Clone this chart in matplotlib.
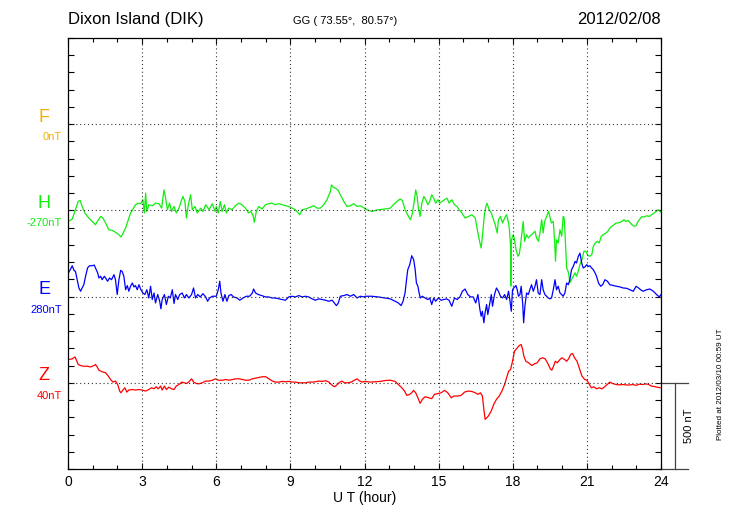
import numpy as np
import matplotlib
matplotlib.use("Agg")
import matplotlib.pyplot as plt

plt.rcParams['font.family'] = ['Liberation Sans', 'DejaVu Sans']

station = "Dixon Island (DIK)"
coords = "GG ( 73.55\u00b0,  80.57\u00b0)"
date = "2012/02/08"
stamp = "Plotted at 2012/03/10 00:59 UT"

# component names, baseline labels, colours
comps = ["F", "H", "E", "Z"]
base_labels = ["0nT", "-270nT", "280nT", "40nT"]
colors = ["#f5b000", "#10ee10", "#0000ff", "#ff0000"]
offsets = [2000, 1500, 1000, 500]   # plotting offset of each trace, nT
scale_nt = 500

# deviations from baseline (nT)
h_hour = [0.01, 0.17, 0.30, 0.41, 0.49, 0.57, 0.68, 0.84, 0.98, 1.11, 1.25, 1.33, 1.41, 1.52,
          1.65, 1.79, 1.92, 2.06, 2.14, 2.22, 2.33, 2.44, 2.53, 2.63, 2.73, 2.84, 2.95, 3.03,
          3.09, 3.14, 3.19, 3.27, 3.41, 3.54, 3.68, 3.79, 3.88, 3.95, 4.02, 4.11, 4.19, 4.29,
          4.38, 4.49, 4.60, 4.65, 4.73, 4.79, 4.87, 4.96, 5.03, 5.14, 5.23, 5.37, 5.46, 5.57,
          5.71, 5.84, 5.95,
          6.00, 6.08, 6.16, 6.24, 6.33, 6.41, 6.50, 6.64, 6.77, 6.91, 7.04, 7.18, 7.31, 7.40,
          7.49, 7.54, 7.62, 7.72, 7.85, 7.99, 8.12, 8.26, 8.39, 8.53, 8.66, 8.80, 8.93, 9.07,
          9.20, 9.38, 9.47, 9.61, 9.81, 9.94, 10.08, 10.21, 10.35, 10.48, 10.62, 10.66, 10.73,
          10.82, 10.92, 11.02, 11.16, 11.29, 11.43, 11.56, 11.70, 11.83, 12.00,
          12.02, 12.29, 12.56, 12.83, 13.04, 13.17, 13.31, 13.44, 13.53, 13.64, 13.78, 13.86,
          13.94, 14.02, 14.07, 14.13, 14.18, 14.25, 14.32, 14.40, 14.48, 14.56, 14.64, 14.72,
          14.80, 14.88, 14.97, 15.05, 15.13, 15.24, 15.34, 15.42, 15.53, 15.64, 15.74, 15.83,
          15.94, 16.07, 16.21, 16.34, 16.48, 16.59, 16.67, 16.72, 16.77, 16.86, 16.91, 16.96,
          17.04, 17.13, 17.22, 17.29, 17.37, 17.42, 17.50, 17.59, 17.67, 17.75, 17.83, 17.87,
          17.91, 17.92, 17.95,
          18.02, 18.07, 18.13, 18.21, 18.26, 18.31, 18.37, 18.42, 18.48, 18.56, 18.63, 18.69,
          18.76, 18.83, 18.90, 18.96, 19.04, 19.10, 19.17, 19.23, 19.29, 19.37, 19.45, 19.50,
          19.56, 19.64, 19.69, 19.73, 19.77, 19.84, 19.91, 19.98, 20.04, 20.08, 20.12, 20.18,
          20.26, 20.31, 20.38, 20.45, 20.52, 20.58, 20.65, 20.72, 20.80, 20.88, 20.96, 21.04,
          21.12, 21.20, 21.26, 21.34, 21.42, 21.50, 21.58, 21.66, 21.77, 21.85, 21.93, 22.01,
          22.10, 22.18, 22.26, 22.34, 22.42, 22.50, 22.58, 22.66, 22.74, 22.82, 22.91, 22.99,
          23.07, 23.15, 23.23, 23.31, 23.42, 23.53, 23.62, 23.72, 23.80, 23.88, 23.96, 24.00]
h_nt = [-64, -50, 4, 52, 58, 23, -15, -44, -64, -83, -50, -35, -44, -73,
        -112, -116, -127, -141, -154, -135, -102, -54, -15, 8, 33, 42, 39, 62,
        -15, 100, -6, 33, 27, 42, 39, 13, 119, 71, 4, 42, -6, 23,
        -15, 13, 62, 81, 52, -44, 33, 91, 4, 23, -15, 13, -6, 33,
        4, 39, -6,
        23, -15, 52, -6, 33, -15, 13, 4, 27, 42, 33, 13, -15, -6,
        -31, -69, -6, 23, 8, 33, 39, 42, 33, 39, 33, 27, 23, 13,
        4, -25, 4, 8, 19, 27, 13, 13, 33, 62, 110, 148, 135,
        129, 119, 91, 52, 23, 27, 39, 23, 27, 13,
        8, -6, 4, 8, 13, 33, 52, 66, 58, 4, -35, -54,
        -15, 62, 119, 81, 13, -35, 42, 81, 62, 33, 52, 91,
        71, 42, 62, 42, 52, 62, 71, 42, 62, 33, 23, 4,
        -15, -44, -35, -25, -44, -131, -189, -218, -150, -15, 23, 42,
        4, -15, -54, -83, -131, -54, -35, -73, -44, -25, -73, -121,
        -208, -439, -170,
        -141, -170, -227, -266, -256, -208, -131, -64, -179, -141, -160, -150,
        -141, -131, -121, -160, -179, -131, -54, -131, -64, -35, -6, -35,
        -73, -64, -170, -295, -170, -189, -112, -150, -35, -44, -150, -333,
        -362, -420, -401, -382, -362, -382, -353, -314, -285, -237, -237, -262,
        -266, -256, -208, -189, -179, -189, -150, -141, -131, -121, -102, -92,
        -83, -73, -73, -69, -64, -54, -64, -58, -69, -83, -92, -89,
        -64, -50, -35, -39, -31, -35, -25, -15, -6, 4, -6, -12]

e_hour = [0.01, 0.09, 0.17, 0.24, 0.30, 0.37, 0.44, 0.51, 0.57, 0.64, 0.71, 0.79, 0.87, 0.98,
          1.06, 1.11, 1.20, 1.25, 1.32, 1.38, 1.47, 1.52, 1.60, 1.68, 1.76, 1.86, 1.92, 1.99,
          2.06, 2.13, 2.19, 2.26, 2.33, 2.40, 2.46, 2.53, 2.60, 2.67, 2.73, 2.80, 2.87, 2.95,
          3.03, 3.11, 3.19, 3.27, 3.34, 3.41, 3.48, 3.54, 3.63, 3.71, 3.76, 3.81, 3.90, 3.98,
          4.06, 4.14, 4.22, 4.29, 4.35, 4.44, 4.52, 4.62, 4.71, 4.79, 4.89, 5.00, 5.08, 5.16,
          5.25, 5.35, 5.46, 5.57, 5.65, 5.73, 5.84, 5.95,
          6.00, 6.08, 6.14, 6.19, 6.27, 6.35, 6.43, 6.51, 6.60, 6.70, 6.84, 6.95, 7.08, 7.22,
          7.35, 7.46, 7.51, 7.59, 7.70, 7.84, 7.99, 8.12, 8.26, 8.39, 8.53, 8.66, 8.80, 8.93,
          9.07, 9.20, 9.34, 9.47, 9.61, 9.74, 9.88, 10.01, 10.15, 10.28, 10.42, 10.55, 10.69,
          10.78, 10.86, 10.94, 11.02, 11.16, 11.29, 11.43, 11.56, 11.70, 11.83, 12.00,
          12.02, 12.29, 12.56, 12.83, 13.04, 13.24, 13.37, 13.48, 13.56, 13.64, 13.70, 13.75,
          13.83, 13.91, 13.99, 14.05, 14.10, 14.16, 14.21, 14.26, 14.34, 14.45, 14.56, 14.64,
          14.72, 14.80, 14.88, 14.99, 15.10, 15.21, 15.32, 15.42, 15.53, 15.64, 15.75, 15.86,
          15.96, 16.07, 16.18, 16.29, 16.40, 16.50, 16.59, 16.67, 16.72, 16.77, 16.83, 16.88,
          16.94, 16.99, 17.07, 17.13, 17.18, 17.26, 17.34, 17.42, 17.50, 17.59, 17.67, 17.75,
          17.83, 17.88, 17.94, 17.99,
          18.04, 18.13, 18.18, 18.23, 18.29, 18.34, 18.40, 18.44, 18.49, 18.56, 18.63, 18.69,
          18.76, 18.83, 18.90, 18.96, 19.03, 19.10, 19.17, 19.23, 19.30, 19.37, 19.44, 19.50,
          19.57, 19.64, 19.71, 19.77, 19.84, 19.91, 19.98, 20.04, 20.11, 20.18, 20.25, 20.31,
          20.38, 20.45, 20.52, 20.58, 20.65, 20.72, 20.79, 20.85, 20.92, 20.99, 21.06, 21.12,
          21.19, 21.26, 21.33, 21.39, 21.47, 21.56, 21.64, 21.73, 21.83, 21.93, 22.07, 22.20,
          22.34, 22.47, 22.61, 22.74, 22.88, 22.99, 23.09, 23.20, 23.28, 23.42, 23.55, 23.69,
          23.82, 23.93, 24.00]
e_nt = [137, 156, 179, 152, 146, 98, 50, 31, 50, 69, 118, 166, 179, 179,
        183, 166, 137, 108, 118, 98, 118, 108, 89, 108, 98, 127, 98, 12,
        98, 152, 146, 118, 40, 64, 31, 60, 79, 56, 64, 40, 69, 40,
        21, 12, 40, -8, 60, -17, 21, -37, 12, -27, -71, -17, 12, -46,
        2, -8, 40, -40, 12, -17, 12, 21, -8, 12, -8, 12, 50, -8,
        12, -2, 17, -2, -27, -8, 2, 2,
        2, 40, 89, 21, -27, 12, -27, 6, 12, -2, -8, -21, -8, 2,
        2, 21, 44, 21, 12, 6, -2, -2, -8, -8, -13, -17, -21, -2,
        2, -2, 6, -2, 2, -2, -13, -21, -13, -17, -21, -27, -21,
        -37, -52, -37, 2, 6, 12, 2, 12, -8, 2, -2,
        2, 2, -2, -8, -13, -27, -37, -52, -27, 21, 98, 156,
        185, 237, 214, 156, 79, 60, 21, -8, 2, -8, -17, -8,
        -46, -8, -27, -8, -21, -17, -13, -21, -56, -8, -17, -2,
        31, 44, 12, -2, -2, -37, 12, -75, -114, -85, -152, -94,
        -46, -104, -37, 12, -56, 12, 50, 31, 2, -8, 12, -17,
        31, -17, -85, 40,
        50, 64, 40, 2, 12, 60, -37, -152, -56, 21, 12, 40,
        69, 31, 60, 98, 21, 12, 98, 40, 12, 2, -8, -13,
        -8, 40, 98, 40, 60, 21, 12, 2, 21, 79, 69, 98,
        156, 175, 204, 195, 233, 252, 195, 166, 172, 185, 175, 179,
        166, 156, 137, 118, 79, 60, 69, 98, 89, 69, 64, 60,
        56, 50, 48, 40, 31, 60, 50, 37, 31, 40, 44, 31,
        12, -2, 12]

z_hour = [0.03, 0.17, 0.28, 0.33, 0.41, 0.51, 0.64, 0.78, 0.91, 1.05, 1.11, 1.18, 1.25, 1.38,
          1.52, 1.63, 1.72, 1.82, 1.92, 2.01, 2.09, 2.14, 2.22, 2.30, 2.38, 2.46, 2.60, 2.73,
          2.87, 3.00, 3.14, 3.27, 3.38, 3.48, 3.57, 3.65, 3.75, 3.81, 3.90, 3.98, 4.08, 4.19,
          4.29, 4.38, 4.49, 4.60, 4.71, 4.81, 4.92, 5.00, 5.08, 5.19, 5.30, 5.43, 5.57, 5.70,
          5.84, 5.97, 6.08, 6.25, 6.38, 6.52, 6.65, 6.78, 6.92, 7.05, 7.19, 7.32, 7.46, 7.59,
          7.73, 7.86, 8.00, 8.13, 8.27, 8.40, 8.54, 8.67, 8.81, 8.94, 9.08, 9.21, 9.35, 9.48,
          9.62, 9.75, 9.89, 10.02, 10.16, 10.29, 10.43, 10.56, 10.67, 10.78, 10.86, 10.97,
          11.08, 11.19, 11.32, 11.46, 11.59, 11.70, 11.78, 11.91,
          12.02, 12.23, 12.43, 12.63, 12.83, 13.04, 13.24, 13.37, 13.51, 13.62, 13.71, 13.80,
          13.91, 13.98, 14.07, 14.16, 14.25, 14.34, 14.45, 14.59, 14.72, 14.83, 14.97, 15.10,
          15.24, 15.37, 15.51, 15.61, 15.75, 15.91, 16.05, 16.18, 16.34, 16.48, 16.59, 16.69,
          16.77, 16.83, 16.88, 16.99, 17.13, 17.23, 17.34, 17.45, 17.56, 17.67, 17.75, 17.83,
          17.91, 17.99, 18.07, 18.18, 18.26, 18.34, 18.40, 18.45, 18.53, 18.64, 18.77, 18.88,
          18.99, 19.10, 19.21, 19.31, 19.42, 19.52, 19.58, 19.65, 19.72, 19.80, 19.91, 19.99,
          20.10, 20.18, 20.26, 20.34, 20.42, 20.50, 20.60, 20.69, 20.80, 20.91, 21.00, 21.10,
          21.18, 21.28, 21.39, 21.50, 21.61, 21.72, 21.82, 21.93, 22.04, 22.18, 22.31, 22.45,
          22.58, 22.72, 22.85, 22.99, 23.12, 23.26, 23.39, 23.50, 23.61, 23.77, 23.97]
z_nt = [135, 139, 150, 135, 106, 100, 96, 96, 92, 100, 106, 92, 73, 64,
        58, 39, 19, 4, 10, -10, -48, -58, -42, -29, -54, -42, -39, -42,
        -39, -42, -48, -39, -29, -35, -23, -35, -19, -42, -19, -39, -25, -35,
        -39, -19, -10, 4, 0, -4, 10, 23, 4, -4, -6, 0, 10, 10,
        15, 23, 15, 15, 19, 15, 19, 23, 23, 19, 15, 15, 23, 27,
        31, 35, 35, 23, 10, 4, 4, 8, 6, 8, 4, 4, 0, 0,
        0, 4, 4, 6, 10, 8, 12, 4, -12, -23, -15, 0,
        10, 0, 0, 4, 15, 23, 12, 4,
        8, 4, 6, 8, 13, 15, 8, -10, -29, -48, -73, -69,
        -58, -44, -58, -87, -119, -96, -81, -87, -92, -67, -62, -58,
        -44, -58, -87, -77, -77, -73, -54, -48, -50, -58, -67, -58,
        -77, -154, -212, -197, -164, -125, -96, -77, -48, -10, 29, 67,
        77, 125, 183, 202, 216, 222, 193, 154, 125, 116, 100, 110,
        116, 139, 145, 139, 112, 81, 73, 96, 125, 116, 135, 145,
        135, 125, 139, 164, 170, 145, 125, 87, 39, 19, 15, -10,
        -29, -23, -35, -29, -35, -23, -10, 4, -4, -10, -12, -10,
        -12, -13, -10, -15, -8, -10, -6, -10, -19, -23, -29]

series = {"H": (h_hour, h_nt), "E": (e_hour, e_nt), "Z": (z_hour, z_nt)}

fig = plt.figure(figsize=(7.3, 5.2), dpi=100)
ax = fig.add_axes([0.0932, 0.0981, 0.8123, 0.8288])

for name, col, off in zip(comps, colors, offsets):
    if name in series:
        hrs, vals = series[name]
        ax.plot(hrs, np.array(vals) + off, color=col, lw=0.9)

ax.set_xlim(0, 24)
ax.set_ylim(0, 2500)
ax.set_xticks(range(0, 25, 3))
ax.set_xticks(range(0, 25), minor=True)
ax.set_yticks(range(0, 2501, 100))
ax.set_yticklabels([])
ax.tick_params(axis='both', which='both', direction='in', top=True, right=True,
               length=4, width=0.8, labelsize=10)
ax.tick_params(axis='x', which='minor', length=3)
ax.tick_params(axis='x', pad=4)
for s in ax.spines.values():
    s.set_linewidth(0.9)

for h in range(3, 24, 3):
    ax.axvline(h, color='#333333', lw=0.8, ls=(0, (1, 2.5)))
for off in offsets:
    ax.axhline(off, color='#333333', lw=0.8, ls=(0, (1, 2.5)))

ax.set_xlabel("U T (hour)", fontsize=10, labelpad=2)

# component names and baselines on the left
for name, lab, col, off in zip(comps, base_labels, colors, offsets):
    ax.annotate(name, xy=(0, off), xycoords=('axes fraction', 'data'),
                xytext=(-24, 7), textcoords='offset pixels',
                ha='center', va='center', color=col, fontsize=13)
    ax.annotate(lab, xy=(0, off), xycoords=('axes fraction', 'data'),
                xytext=(-6, -13), textcoords='offset pixels',
                ha='right', va='center', color=col, fontsize=8)

# 500 nT scale bar to the right
z_off = offsets[-1]
ax.plot([24, 25.1], [z_off, z_off], color='#444444', lw=0.9, clip_on=False)
ax.plot([24, 25.1], [z_off - scale_nt, z_off - scale_nt], color='#444444', lw=0.9, clip_on=False)
ax.plot([24.57, 24.57], [z_off, z_off - scale_nt], color='#444444', lw=0.9, clip_on=False)
ax.text(25.12, z_off - scale_nt / 2, "500 nT", rotation=90, ha='center', va='center', fontsize=8)

fig.text(0.0932, 0.962, station, ha='left', va='center', fontsize=12)
fig.text(0.473, 0.960, coords, ha='center', va='center', fontsize=8)
fig.text(0.9055, 0.962, date, ha='right', va='center', fontsize=12)
fig.text(0.987, 0.262, stamp, rotation=90, ha='center', va='center', fontsize=5.8)

fig.savefig("out.png", dpi=100)
